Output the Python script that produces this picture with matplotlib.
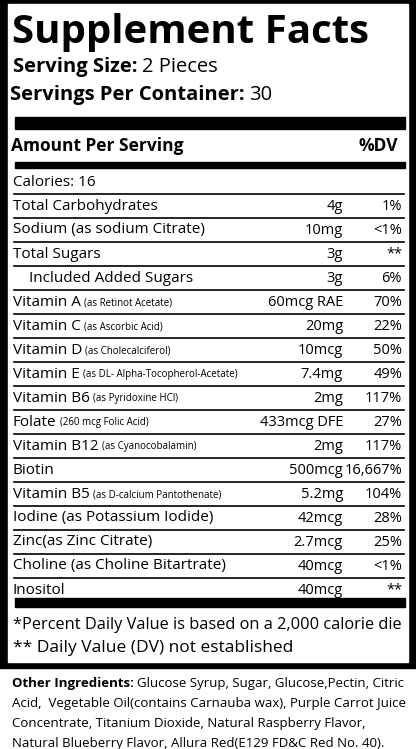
import matplotlib.pyplot as plt
from matplotlib.patches import Rectangle

plt.rcParams['font.family'] = ['Open Sans', 'DejaVu Sans']

# label rows
names = ['Calories: 16', 'Total Carbohydrates', 'Sodium (as sodium Citrate)', 'Total Sugars',
         '    Included Added Sugars', 'Vitamin A', 'Vitamin C', 'Vitamin D', 'Vitamin E',
         'Vitamin B6', 'Folate', 'Vitamin B12', 'Biotin', 'Vitamin B5',
         'Iodine (as Potassium Iodide)', 'Zinc(as Zinc Citrate)', 'Choline (as Choline Bitartrate)', 'Inositol']
notes = ['', '', '', '', '', '(as Retinot Acetate)', '(as Ascorbic Acid)', '(as Cholecalciferol)',
         '(as DL- Alpha-Tocopherol-Acetate)', '(as Pyridoxine HCl)', '(260 mcg Folic Acid)',
         '(as Cyanocobalamin)', '', '(as D-calcium Pantothenate)', '', '', '', '']
amounts = ['', '4g', '10mg', '3g', '3g', '60mcg RAE', '20mg', '10mcg', '7.4mg', '2mg',
           '433mcg DFE', '2mg', '500mcg', '5.2mg', '42mcg', '2.7mcg', '40mcg', '40mcg']
dvs = ['', '1%', '<1%', '**', '6%', '70%', '22%', '50%', '49%', '117%', '27%', '117%',
       '16,667%', '104%', '28%', '25%', '<1%', '**']
ingredients = ['Glucose Syrup, Sugar, Glucose,Pectin, Citric',
               'Acid,  Vegetable Oil(contains Carnauba wax), Purple Carrot Juice',
               'Concentrate, Titanium Dioxide, Natural Raspberry Flavor,',
               'Natural Blueberry Flavor, Allura Red(E129 FD&C Red No. 40).']

fig = plt.figure(figsize=(4.16, 7.49), dpi=100)
ax = fig.add_axes([0, 0, 1, 1])
ax.set_xlim(0, 416)
ax.set_ylim(749, 0)
ax.axis('off')
fig.canvas.draw()
renderer = fig.canvas.get_renderer()

# outer black frame
ax.add_patch(Rectangle((0, 0), 416, 668, color='black'))
ax.add_patch(Rectangle((8, 4), 400, 658, color='white'))

ax.text(12, 43, 'Supplement Facts', fontsize=29, fontweight='bold', va='baseline')
t = ax.text(13, 72, 'Serving Size:', fontsize=14.5, fontweight='bold', va='baseline')
ax.text(t.get_window_extent(renderer).x1 + 4, 72, '2 Pieces', fontsize=14.5, va='baseline')
t = ax.text(10, 100, 'Servings Per Container:', fontsize=14.5, fontweight='bold', va='baseline')
ax.text(t.get_window_extent(renderer).x1 + 4, 100, '30', fontsize=14.5, va='baseline')

ax.add_patch(Rectangle((15, 117), 390, 12, color='black'))
ax.text(11, 146, 'Amount Per Serving', fontsize=12.5, fontweight='bold', va='center')
ax.text(398, 146, '%DV', fontsize=12.5, fontweight='bold', va='center', ha='right')
ax.add_patch(Rectangle((15, 162), 390, 6, color='black'))

y0, step = 182, 24
for i in range(len(names)):
    y = y0 + i * step
    t = ax.text(13, y, names[i], fontsize=11, va='center')
    if notes[i]:
        x1 = t.get_window_extent(renderer).x1
        ax.text(x1 + 3, y + 1, notes[i], fontsize=7, va='center')
    ax.text(343, y, amounts[i], fontsize=10.5, va='center', ha='right')
    ax.text(402, y, dvs[i], fontsize=10.5, va='center', ha='right')
    if i < len(names) - 1:
        ax.plot([14, 404], [y + 12, y + 12], color='black', lw=1.2)

ax.add_patch(Rectangle((15, 598), 390, 9, color='black'))
ax.text(13, 625, '*Percent Daily Value is based on a 2,000 calorie die', fontsize=11.8, va='center')
ax.text(13, 648, '** Daily Value (DV) not established', fontsize=12.5, va='center')

t = ax.text(12, 683, 'Other Ingredients:', fontsize=9.5, fontweight='bold', va='center')
ax.text(t.get_window_extent(renderer).x1 + 3, 683, ingredients[0], fontsize=9.5, va='center')
for k, line in enumerate(ingredients[1:]):
    ax.text(12, 703 + 20 * k, line, fontsize=9.5, va='center')

fig.savefig('out.png', dpi=100)
